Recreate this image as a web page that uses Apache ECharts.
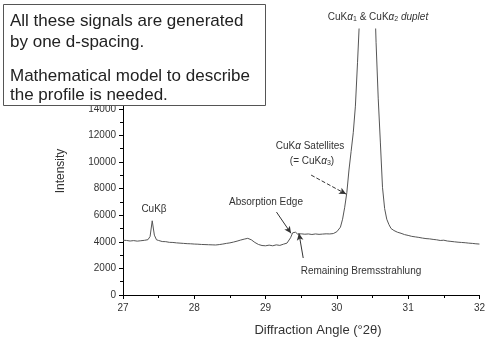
<!DOCTYPE html>
<html><head><meta charset="utf-8">
<script src="https://cdn.jsdelivr.net/npm/echarts@6/dist/echarts.min.js"></script>
<style>html,body{margin:0;padding:0;background:#fff}#c{width:488px;height:338px}</style>
</head><body><div id="c"></div>
<script>
const angles = [27.00,27.025,27.05,27.075,27.10,27.125,27.15,27.175,27.20,27.225,27.25,27.275,27.30,27.325,27.35,27.38,27.41,27.44,27.47,27.50,27.525,27.55,27.575,27.60,27.625,27.65,27.675,27.70,27.725,27.75,27.775,27.80,27.825,27.85,27.875,27.90,27.925,27.95,27.975,28.00,28.025,28.05,28.075,28.10,28.125,28.15,28.175,28.20,28.225,28.25,28.275,28.30,28.325,28.35,28.40,28.45,28.50,28.55,28.60,28.65,28.70,28.75,28.80,28.85,28.90,28.95,29.00,29.05,29.10,29.15,29.20,29.25,29.30,29.35,29.38,29.42,29.45,29.475,29.50,29.525,29.55,29.575,29.60,29.625,29.65,29.675,29.70,29.725,29.75,29.775,29.80,29.825,29.85,29.875,29.90,29.925,29.95,29.975,30.00,30.05,30.08,30.11,30.14,30.17,30.20,30.23,30.26,30.29,30.32,30.36,30.40,30.46,30.51,30.55,30.58,30.61,30.64,30.67,30.70,30.73,30.76,30.80,30.85,30.90,30.95,31.00,31.025,31.05,31.075,31.10,31.125,31.15,31.175,31.20,31.225,31.25,31.275,31.30,31.325,31.35,31.375,31.40,31.425,31.45,31.475,31.50,31.525,31.55,31.575,31.60,31.625,31.65,31.675,31.70,31.725,31.75,31.775,31.80,31.825,31.85,31.875,31.90,31.925,31.95,31.975,32.00];
const intensity = [4120,4180,4100,4160,4060,4130,4090,4170,4050,4120,4080,4150,4110,4190,4160,4400,5580,4500,4150,4100,4160,4020,4090,4010,4070,3960,4030,3950,3990,3920,4000,3900,3960,3880,3940,3860,3920,3850,3910,3830,3890,3820,3870,3800,3860,3790,3840,3780,3830,3770,3820,3760,3810,3790,3830,3880,3920,3980,4050,4130,4200,4260,4150,3950,3800,3720,3700,3750,3700,3770,3730,3820,3900,4300,4680,4720,4580,4660,4600,4680,4570,4640,4590,4660,4550,4620,4590,4680,4560,4630,4580,4670,4600,4650,4590,4680,4620,4700,4760,5100,5700,6600,7700,9400,10800,12200,14200,17500,21000,30000,34000,32000,26000,19000,14800,11500,8100,6500,5700,5300,5000,4850,4720,4640,4540,4480,4560,4410,4470,4370,4430,4330,4400,4280,4350,4240,4310,4220,4290,4180,4250,4150,4240,4100,4190,4120,4170,4060,4140,4030,4110,4000,4080,3970,4040,3950,4020,3930,3990,3900,3960,3880,3940,3850,3900,3830];
const xTicks = [27,28,29,30,31,32];
const yTicks = [0,2000,4000,6000,8000,10000,12000,14000,16000,18000,20000];

const chart = echarts.init(document.getElementById('c'));
const F = 'Liberation Sans, Arial, sans-serif';
chart.setOption({
  animation: false,
  grid: {left: 123, right: 5, top: 29, bottom: 43},
  xAxis: {type: 'value', min: xTicks[0], max: xTicks[xTicks.length-1], interval: 1,
    axisLine: {lineStyle: {color: '#000', width: 1}},
    axisTick: {length: 4, lineStyle: {color: '#000'}},
    minorTick: {show: true, splitNumber: 2, length: 3, lineStyle: {color: '#000'}},
    splitLine: {show: false},
    axisLabel: {fontSize: 10, color: '#333', fontFamily: F, margin: 8}},
  yAxis: {type: 'value', min: yTicks[0], max: yTicks[yTicks.length-1], interval: 2000,
    axisLine: {show: true, lineStyle: {color: '#000', width: 1}},
    axisTick: {show: true, length: 4, lineStyle: {color: '#000'}},
    minorTick: {show: true, splitNumber: 2, length: 3, lineStyle: {color: '#000'}},
    splitLine: {show: false},
    axisLabel: {fontSize: 10, color: '#333', fontFamily: F, margin: 7, formatter: v => String(v)}},
  series: [{
    type: 'line', showSymbol: false, symbol: 'none', clip: true,
    data: angles.map((a, i) => [a, intensity[i]]),
    lineStyle: {color: '#555', width: 1},
    markLine: {
      silent: true, symbol: ['none', 'arrow'], symbolSize: [5, 7],
      label: {show: false},
      lineStyle: {color: '#333', width: 1, type: 'solid'},
      data: [
        [{coord: [29.153, 6236]}, {coord: [29.357, 4635]}],
        [{coord: [29.528, 2780]}, {coord: [29.468, 4635]}],
        [{coord: [29.639, 9016], lineStyle: {type: 'dashed', color: '#333'}}, {coord: [30.129, 7588]}]
      ]
    }
  }],
  graphic: [
    {type: 'text', x: 154, y: 209, style: {text: 'CuKβ', font: '10px ' + F, fill: '#333', align: 'center', verticalAlign: 'middle'}},
    {type: 'text', x: 266, y: 202, style: {text: 'Absorption Edge', font: '10px ' + F, fill: '#333', align: 'center', verticalAlign: 'middle'}},
    {type: 'text', x: 361, y: 271, style: {text: 'Remaining Bremsstrahlung', font: '10px ' + F, fill: '#333', align: 'center', verticalAlign: 'middle'}},
    {type: 'text', x: 310, y: 146, style: {text: 'CuK{i|α} Satellites', font: '10px ' + F, fill: '#333', align: 'center', verticalAlign: 'middle',
      rich: {i: {fontStyle: 'italic', fontSize: 10, fontFamily: F, fill: '#333'}}}},
    {type: 'text', x: 312, y: 161, style: {text: '(= CuK{i|α}{s|3})', font: '10px ' + F, fill: '#333', align: 'center', verticalAlign: 'middle',
      rich: {i: {fontStyle: 'italic', fontSize: 10, fontFamily: F, fill: '#333'}, s: {fontSize: 7, fontFamily: F, fill: '#333', padding: [5, 0, 0, 0]}}}},
    {type: 'text', x: 378, y: 17, style: {text: 'CuK{i|α}{s|1} & CuK{i|α}{s|2} {i|duplet}', font: '10px ' + F, fill: '#333', align: 'center', verticalAlign: 'middle',
      rich: {i: {fontStyle: 'italic', fontSize: 10, fontFamily: F, fill: '#333'}, s: {fontSize: 7, fontFamily: F, fill: '#333', padding: [5, 0, 0, 0]}}}},
    {type: 'text', x: 61, y: 171, rotation: Math.PI / 2, style: {text: 'Intensity', font: '12px ' + F, fill: '#333', align: 'center', verticalAlign: 'middle'}},
    {type: 'text', x: 318, y: 330, style: {text: 'Diffraction Angle (°2θ)', font: '13px ' + F, fill: '#333', align: 'center', verticalAlign: 'middle'}},
    {type: 'rect', shape: {x: 3.5, y: 4.5, width: 262, height: 101}, style: {fill: '#fff', stroke: '#555', lineWidth: 1}, z: 100},
    {type: 'text', x: 10, y: 21, z: 101, style: {text: 'All these signals are generated', font: '17px ' + F, fill: '#222', verticalAlign: 'middle'}},
    {type: 'text', x: 10, y: 42, z: 101, style: {text: 'by one d-spacing.', font: '17px ' + F, fill: '#222', verticalAlign: 'middle'}},
    {type: 'text', x: 10, y: 76, z: 101, style: {text: 'Mathematical model to describe', font: '17px ' + F, fill: '#222', verticalAlign: 'middle'}},
    {type: 'text', x: 10, y: 95, z: 101, style: {text: 'the profile is needed.', font: '17px ' + F, fill: '#222', verticalAlign: 'middle'}}
  ]
});
</script></body></html>
